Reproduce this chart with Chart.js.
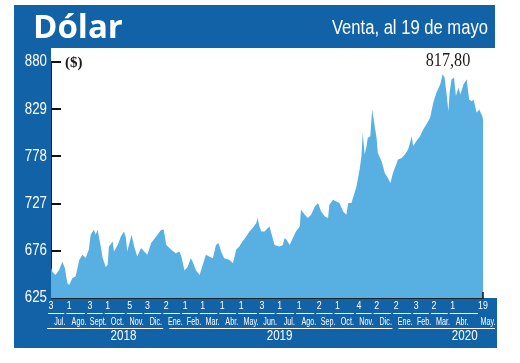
<!DOCTYPE html>
<html>
<head>
<meta charset="utf-8">
<script src="https://cdn.jsdelivr.net/npm/chart.js@4.4.1/dist/chart.umd.min.js"></script>
<style>
  html, body { margin: 0; padding: 0; background: #fff; }
  #wrap { position: relative; width: 520px; height: 363px; }
  #chart { position: absolute; left: 0; top: 0; }
  #head { position: absolute; left: 14px; top: 5px; width: 481px; height: 43px; background: #1262a8; }
  #title { position: absolute; left: 19px; top: 4px; font: bold 33px/1 "Open Sans", sans-serif; color: #fff; }
  #sub { position: absolute; right: 7px; top: 12px; font: 20px/1 "Liberation Sans", Arial, sans-serif; color: #fff;
         transform: scaleX(0.83); transform-origin: right center; white-space: nowrap; }
</style>
</head>
<body>
<div id="wrap">
  <canvas id="chart" width="520" height="363"></canvas>
  <div id="head"><span id="title">Dólar</span><span id="sub">Venta, al 19 de mayo</span></div>
</div>
<script>
// dias desde el 3 de julio de 2018, y precio de venta
const dayOffsets = [
  0, 2, 7, 13, 18, 22, 26, 29, 34, 39, 45, 50, 55, 60, 63, 68, 71, 74, 79, 82,
  87, 90, 92, 98, 100, 106, 111, 116, 119, 121, 128, 132, 137, 143, 148, 153, 159, 167, 175, 179,
  183, 191, 198, 204, 207, 212, 217, 222, 225, 230, 236, 241, 246, 251, 257, 262, 266, 270, 275, 283,
  289, 294, 299, 304, 310, 315, 320, 326, 328, 331, 334, 339, 344, 347, 352, 355, 363, 368, 371, 374,
  379, 384, 389, 395, 397, 403, 408, 413, 419, 424, 429, 435, 440, 442, 448, 453, 458, 464, 469, 472,
  477, 482, 485, 490, 493, 495, 498, 501, 503, 507, 510, 514, 517, 519, 525, 530, 535, 539, 543, 546,
  549, 551, 557, 562, 567, 573, 575, 580, 586, 591, 596, 602, 607, 612, 618, 622, 625, 628, 631, 633,
  636, 640, 643, 647, 650, 655, 660, 664, 668, 671, 676, 680, 685, 686
];
const values = [
  658.6, 653.5, 649.9, 655.3, 664.3, 657.5, 641.3, 639.1, 646.7, 648.1, 666.2, 671.6, 668.3, 677.0, 693.3, 698.7, 693.3, 698.7, 680.6, 668.3,
  658.6, 660.8, 680.6, 686.0, 675.2, 682.4, 691.4, 696.8, 689.7, 675.2, 693.3, 680.6, 669.8, 678.9, 675.2, 671.6, 684.3, 691.4, 698.7, 698.7,
  682.4, 677.0, 673.4, 675.2, 669.8, 654.6, 658.9, 668.0, 664.3, 655.3, 649.9, 660.8, 671.6, 669.8, 668.0, 682.4, 684.3, 675.2, 668.0, 666.2,
  662.6, 677.0, 680.6, 686.0, 691.4, 696.8, 700.5, 706.0, 711.4, 702.3, 696.8, 696.8, 700.5, 702.3, 689.7, 682.4, 680.6, 682.4, 689.7, 687.9,
  682.4, 689.7, 696.8, 702.3, 720.4, 715.0, 711.4, 715.0, 723.9, 727.6, 718.5, 713.1, 711.4, 725.8, 731.2, 729.4, 727.6, 718.5, 715.0, 727.6,
  727.6, 738.5, 745.6, 763.7, 778.1, 803.5, 780.0, 789.0, 798.1, 799.8, 828.7, 810.6, 798.1, 781.8, 772.7, 760.1, 754.7, 749.3, 760.1, 765.6,
  771.0, 774.6, 776.4, 780.0, 785.4, 799.8, 789.0, 794.4, 799.8, 807.1, 812.5, 819.7, 836.0, 846.8, 855.8, 866.7, 863.1, 846.8, 826.9, 846.8,
  861.3, 863.1, 843.2, 852.3, 845.0, 855.8, 861.3, 839.6, 837.7, 839.6, 825.2, 828.7, 821.5, 817.8
];

const yTicks = [625, 676, 727, 778, 829, 880];

// primer dia con dato de cada mes
const monthStartDays = [0, 29, 62, 90, 125, 153, 183, 213, 241, 272, 302, 335, 363, 394, 426, 455, 489, 517, 548, 580, 608, 638, 686];
const monthStartLabels = ['3', '1', '3', '1', '5', '3', '2', '1', '1', '1', '1', '3', '1', '1', '2', '1', '4', '2', '2', '3', '2', '1', '19'];

const monthNames = ['Jul.', 'Ago.', 'Sept.', 'Oct.', 'Nov.', 'Dic.', 'Ene.', 'Feb.', 'Mar.', 'Abr.', 'May.', 'Jun.',
  'Jul.', 'Ago.', 'Sep.', 'Oct.', 'Nov.', 'Dic.', 'Ene.', 'Feb.', 'Mar.', 'Abr.', 'May.'];
const monthNameDays = [14, 44.5, 75, 105.5, 136, 166.5, 197.5, 227, 256.5, 287, 317.5, 348,
  378.5, 409.5, 440, 470.5, 501, 531.5, 562.5, 592.5, 622.5, 653, 694];

const years = ['2018', '2019', '2020'];
const yearDays = [115, 363, 657];
const yearStartDays = [183, 547];

const BLUE = '#1262a8';
const FILL = '#58b0e2';
const SANS = '"Liberation Sans", Arial, sans-serif';

// texto angosto: la fuente del original es condensada
function narrowText(ctx, text, x, y, sx) {
  ctx.save();
  ctx.translate(x, y);
  ctx.scale(sx, 1);
  ctx.fillText(text, 0, 0);
  ctx.restore();
}

function drawScaleLabels(ctx, scale, size, sx, pos) {
  ctx.font = size + 'px ' + SANS;
  scale.ticks.forEach(t => {
    const p = scale.getPixelForValue(t.value);
    if (scale.isHorizontal()) narrowText(ctx, t.label, p, pos, sx);
    else narrowText(ctx, t.label, pos, p, sx);
  });
}

const frame = {
  id: 'frame',
  beforeDraw(chart) {
    const { ctx, chartArea: a } = chart;
    ctx.save();
    ctx.fillStyle = BLUE;
    ctx.fillRect(14, 48, a.left - 14, 300);
    ctx.fillRect(14, a.bottom, 497 - 14, 348 - a.bottom);
    ctx.restore();
  },
  afterDraw(chart) {
    const { ctx, chartArea: a, scales } = chart;
    const px = v => scales.x.getPixelForValue(v);
    ctx.save();

    // marcas del eje y hacia adentro
    ctx.strokeStyle = '#111';
    ctx.lineWidth = 2;
    yTicks.slice(1).forEach(v => {
      const y = Math.round(scales.y.getPixelForValue(v));
      ctx.beginPath();
      ctx.moveTo(a.left, y);
      ctx.lineTo(a.left + 10, y);
      ctx.stroke();
    });
    ctx.lineWidth = 1.5;
    ctx.beginPath();
    ctx.moveTo(a.right, a.bottom - 6);
    ctx.lineTo(a.right, a.bottom);
    ctx.stroke();

    // etiquetas de ejes
    ctx.fillStyle = '#fff';
    ctx.textBaseline = 'middle';
    ctx.textAlign = 'right';
    drawScaleLabels(ctx, scales.y, 16, 0.83, a.left - 4);
    ctx.textAlign = 'center';
    drawScaleLabels(ctx, scales.x, 11, 0.8, a.bottom + 8);
    drawScaleLabels(ctx, scales.xm, 10, 0.72, a.bottom + 24);
    drawScaleLabels(ctx, scales.xy, 14, 0.83, a.bottom + 38);

    // subrayados de meses y años
    ctx.strokeStyle = '#fff';
    ctx.lineWidth = 1;
    const yMonth = a.bottom + 15.5;
    for (let i = 0; i < monthStartDays.length - 1; i++) {
      ctx.beginPath();
      ctx.moveTo(px(monthStartDays[i]) - 3, yMonth);
      ctx.lineTo(px(monthStartDays[i + 1]) - 5, yMonth);
      ctx.stroke();
    }
    const yYear = a.bottom + 30.5;
    const spans = [
      [a.left - 4, px(yearStartDays[0]) - 3],
      [px(yearStartDays[0]) + 3, px(yearStartDays[1]) - 3],
      [px(yearStartDays[1]) + 3, a.right + 12]
    ];
    spans.forEach(([x1, x2]) => {
      ctx.beginPath();
      ctx.moveTo(x1, yYear);
      ctx.lineTo(x2, yYear);
      ctx.stroke();
    });

    // textos sobre el grafico
    ctx.fillStyle = '#1a1a1a';
    ctx.textAlign = 'left';
    ctx.font = 'bold 15px "Liberation Serif", serif';
    ctx.fillText('($)', a.left + 14, 63);
    ctx.textAlign = 'center';
    ctx.font = '18px "Liberation Serif", serif';
    const last = values[values.length - 1].toFixed(2).replace('.', ',');
    narrowText(ctx, last, 448, 61, 0.9);
    ctx.restore();
  }
};

function tickAxis(weight, height, days, labels) {
  return {
    type: 'linear', axis: 'x', position: 'bottom', min: 0, max: 686, weight: weight, z: 1,
    grid: { display: false, drawTicks: false },
    border: { display: false },
    afterBuildTicks: ax => { ax.ticks = days.map(v => ({ value: v })); },
    afterFit: ax => { ax.height = height; },
    ticks: { display: false, autoSkip: false, callback: (v, i) => labels[i] }
  };
}

const xDays = tickAxis(0, 16, monthStartDays, monthStartLabels);
xDays.border = { display: true, color: '#222', width: 1 };

new Chart(document.getElementById('chart'), {
  type: 'line',
  data: {
    datasets: [{
      data: dayOffsets.map((d, i) => ({ x: d, y: values[i] })),
      backgroundColor: FILL,
      borderWidth: 0,
      fill: 'start',
      pointRadius: 0,
      tension: 0
    }]
  },
  options: {
    responsive: false,
    animation: false,
    layout: { padding: { left: 14, top: 62, right: 37, bottom: 15 } },
    plugins: { legend: { display: false }, tooltip: { enabled: false } },
    scales: {
      x: xDays,
      xm: tickAxis(1, 14, monthNameDays, monthNames),
      xy: tickAxis(2, 20, yearDays, years),
      y: {
        type: 'linear', min: 625, max: 880, z: 1,
        afterBuildTicks: ax => { ax.ticks = yTicks.map(v => ({ value: v })); },
        afterFit: ax => { ax.width = 37; },
        grid: { display: false, drawTicks: false },
        border: { display: true, color: '#222', width: 1 },
        ticks: { display: false }
      }
    }
  },
  plugins: [frame]
});
</script>
</body>
</html>
